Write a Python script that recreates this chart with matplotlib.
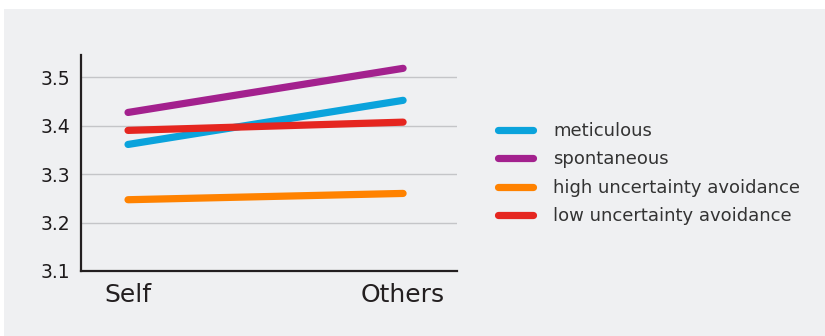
import matplotlib
matplotlib.use("Agg")
import matplotlib.pyplot as plt
from matplotlib.patches import Rectangle
from matplotlib.lines import Line2D

categories = ["Self", "Others"]
series_names = ["meticulous", "spontaneous", "high uncertainty avoidance", "low uncertainty avoidance"]
meticulous = [3.361, 3.452]
spontaneous = [3.427, 3.518]
high_ua = [3.247, 3.260]
low_ua = [3.390, 3.407]
yticks = [3.1, 3.2, 3.3, 3.4, 3.5]
colors = ["#0aa3dc", "#a3218e", "#ff8200", "#e52620"]

plt.rcParams['font.family'] = ['DejaVu Sans']

W, H = 825, 336
fig = plt.figure(figsize=(W / 100, H / 100), dpi=100, facecolor="white")
fig.patches.append(Rectangle((4 / W, 0), 1, 1 - 9 / H, transform=fig.transFigure,
                             facecolor="#eff0f2", edgecolor="none", zorder=-10))

ax = fig.add_axes([81 / W, 65 / H, (457 - 81) / W, (271 - 55) / H])
ax.set_facecolor("none")

x = list(range(len(categories)))
data = [meticulous, spontaneous, high_ua, low_ua]
for i in [2, 0, 1, 3]:
    ax.plot(x, data[i], color=colors[i], lw=5.2, solid_capstyle="round", zorder=3)

ax.set_xlim(-0.171, 1.196)
ax.set_ylim(3.1, 3.5455)
ax.set_yticks(yticks)
ax.set_yticklabels([f"{v:.1f}" for v in yticks], fontsize=13.5, color="#1e1b1c")
ax.set_xticks(x)
ax.set_xticklabels(categories, fontsize=18, color="#231f20")
ax.tick_params(axis="both", length=0)
ax.tick_params(axis="y", pad=8)
ax.tick_params(axis="x", pad=9)
for v in yticks[1:]:
    ax.axhline(v, color="#c4c5c8", lw=1.0, zorder=1)
for s in ["top", "right"]:
    ax.spines[s].set_visible(False)
for s in ["left", "bottom"]:
    ax.spines[s].set_color("#231f20")
    ax.spines[s].set_linewidth(1.6)

handles = [Line2D([], [], color=colors[i], lw=5.2, solid_capstyle="round") for i in range(4)]
leg = fig.legend(handles, series_names, loc="upper left", bbox_to_anchor=(498 / W, 1 - 122 / H),
                 frameon=False, fontsize=13, handlelength=1.95, handletextpad=1.1,
                 labelspacing=0.58, borderaxespad=0, borderpad=0)
for t in leg.get_texts():
    t.set_color("#333333")

fig.savefig("out.png", dpi=100, facecolor="white")
